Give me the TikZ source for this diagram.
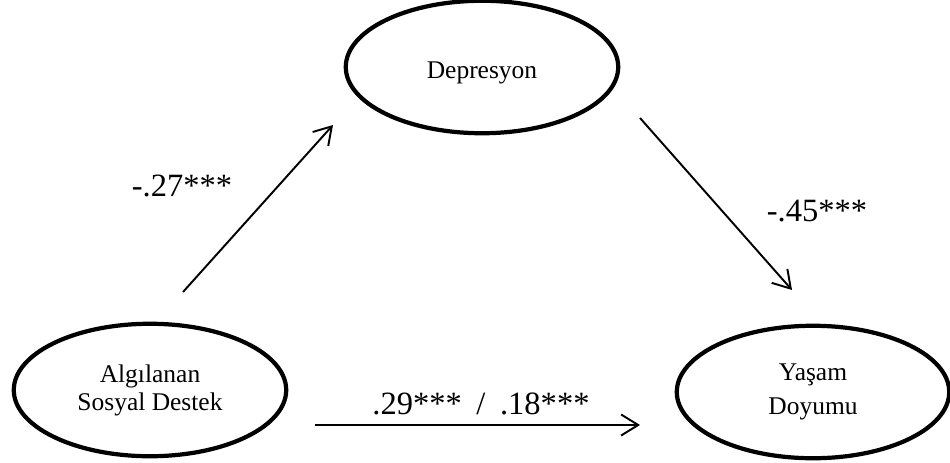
\documentclass[tikz,border=0pt]{standalone}
\usepackage{fontspec}
\setmainfont{Liberation Serif}
\usepackage{tikz}
\usetikzlibrary{arrows.meta,shapes.geometric}

\begin{document}
\begin{tikzpicture}[
  x=0.02cm,y=-0.02cm,
  construct/.style={draw,ellipse,line width=2.4pt,minimum width=5.45cm,
                    minimum height=2.65cm,inner sep=0pt,align=center,
                    font=\fontsize{14.5}{16}\selectfont},
  path/.style={-{Straight Barb[length=3.4mm,width=4.2mm]},line width=1.1pt},
  coef/.style={font=\fontsize{18.5}{20}\selectfont}
]
\useasboundingbox (0,0) rectangle (950,463);

% latent constructs
\node[construct] (dep) at (482,67) {\raisebox{-3pt}[10pt][3pt]{Depresyon}};
\node[construct] (asd) at (150,390) {Algılanan\\Sosyal Destek};
\node[construct,font=\fontsize{14.5}{18.5}\selectfont] (yd) at (813,392) {\raisebox{1pt}[10pt][3pt]{Yaşam}\\Doyumu};

% paths
\draw[path] ([shift={(33,-98)}]asd.center) -- ([shift={(-149,58)}]dep.center);
\draw[path] ([shift={(158,51)}]dep.center) -- ([shift={(-21,-102)}]yd.center);
\draw[path] ([shift={(165,35)}]asd.center) -- ([shift={(-173,33)}]yd.center);

% coefficients
\node[coef] (a) at (182,186) {-.27***};
\node[coef] (b) at (817,211) {-.45***};
\node[coef] (c) at (481,404) {.29***\hspace{0.45em}/\hspace{0.45em}.18***};
\end{tikzpicture}
\end{document}
